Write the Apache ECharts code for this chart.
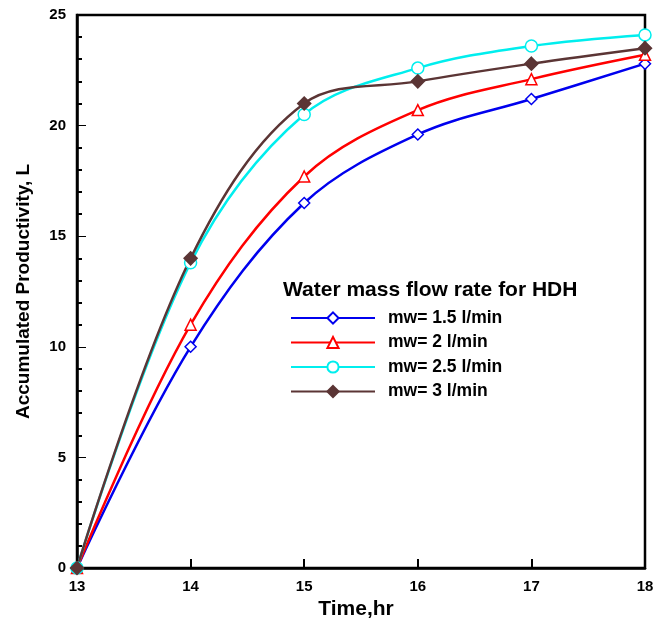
<!DOCTYPE html>
<html>
<head>
<meta charset="utf-8">
<script src="https://cdn.jsdelivr.net/npm/echarts@6/dist/echarts.min.js"></script>
<style>html,body{margin:0;padding:0;background:#fff}#c{width:666px;height:619px}</style>
</head>
<body>
<div id="c"></div>
<script>
var times = [13, 14, 15, 16, 17, 18];
var mw15 = [0, 10.0, 16.5, 19.6, 21.2, 22.8];
var mw2 = [0, 11.0, 17.7, 20.7, 22.1, 23.2];
var mw25 = [0, 13.8, 20.5, 22.6, 23.6, 24.1];
var mw3 = [0, 14.0, 21.0, 22.0, 22.8, 23.5];
var seriesNames = ['mw= 1.5 l/min', 'mw= 2 l/min', 'mw= 2.5 l/min', 'mw= 3 l/min'];
var legendTitle = 'Water mass flow rate for HDH';

function pairs(v) { return times.map(function (t, i) { return [t, v[i]]; }); }

var font = 'Liberation Sans, Arial, sans-serif';
var chart = echarts.init(document.getElementById('c'));
function mk(name, data, color, symbol, size, filled) {
  return {
    name: name, type: 'line', smooth: 0.35, data: pairs(data),
    symbol: symbol, symbolSize: size, showSymbol: true,
    lineStyle: { color: color, width: 2.5 },
    itemStyle: { color: filled ? color : '#fff', borderColor: color, borderWidth: 1.5 },
    z: 3
  };
}
chart.setOption({
  animation: false,
  backgroundColor: '#fff',
  title: {
    text: legendTitle, left: 278, top: 275,
    textStyle: { fontFamily: font, fontWeight: 'bold', fontSize: 21, color: '#000' }
  },
  legend: {
    orient: 'vertical', left: 285, top: 304, itemWidth: 84, itemHeight: 14, itemGap: 6.5,
    data: seriesNames,
    textStyle: { fontFamily: font, fontWeight: 'bold', fontSize: 17.5, lineHeight: 18, color: '#000', padding: [0, 0, 0, 8] }
  },
  grid: { left: 77, right: 21, top: 15, bottom: 51, outerBoundsMode: 'none', containLabel: false, show: true, borderColor: '#000', borderWidth: 2.5, backgroundColor: 'transparent' },
  xAxis: {
    type: 'value', min: 13, max: 18, interval: 1,
    name: 'Time,hr', nameLocation: 'middle', nameGap: 28,
    nameTextStyle: { fontFamily: font, fontWeight: 'bold', fontSize: 21, color: '#000', padding: [0, 10, 0, 0] },
    axisLine: { lineStyle: { color: '#000', width: 2.5 } },
    axisTick: { inside: true, length: 9, lineStyle: { color: '#000', width: 2 } },
    axisLabel: { fontFamily: font, fontWeight: 'bold', fontSize: 15, color: '#000', margin: 11 },
    splitLine: { show: false }
  },
  yAxis: {
    type: 'value', min: 0, max: 25, interval: 5,
    name: 'Accumulated Productivity, L', nameLocation: 'middle', nameGap: 44, nameRotate: 90,
    nameTextStyle: { fontFamily: font, fontWeight: 'bold', fontSize: 19, color: '#000' },
    axisLine: { lineStyle: { color: '#000', width: 2.5 } },
    axisTick: { inside: true, length: 9, lineStyle: { color: '#000', width: 1 } },
    minorTick: { show: true, splitNumber: 5, length: 5, lineStyle: { color: '#000', width: 2 } },
    axisLabel: { fontFamily: font, fontWeight: 'bold', fontSize: 15, color: '#000', margin: 11 },
    splitLine: { show: false }
  },
  series: [
    mk(seriesNames[0], mw15, '#0000ee', 'diamond', 11, false),
    mk(seriesNames[1], mw2, '#ff0000', 'triangle', 11, false),
    mk(seriesNames[2], mw25, '#00eeee', 'circle', 12, false),
    mk(seriesNames[3], mw3, '#5b3535', 'diamond', 13, true)
  ]
});
</script>
</body>
</html>
